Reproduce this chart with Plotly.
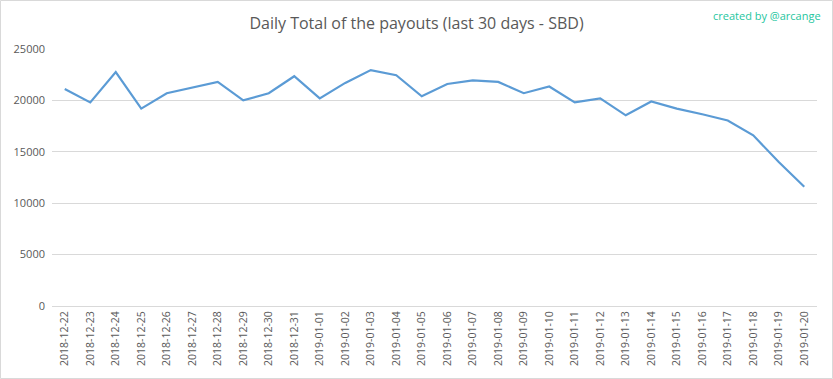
import plotly.graph_objects as go

dates = ["2018-12-22", "2018-12-23", "2018-12-24", "2018-12-25", "2018-12-26", "2018-12-27",
         "2018-12-28", "2018-12-29", "2018-12-30", "2018-12-31", "2019-01-01", "2019-01-02",
         "2019-01-03", "2019-01-04", "2019-01-05", "2019-01-06", "2019-01-07", "2019-01-08",
         "2019-01-09", "2019-01-10", "2019-01-11", "2019-01-12", "2019-01-13", "2019-01-14",
         "2019-01-15", "2019-01-16", "2019-01-17", "2019-01-18", "2019-01-19", "2019-01-20"]
payouts = [21100, 19800, 22750, 19200, 20700, 21250, 21800, 20000, 20700, 22350,
           20200, 21700, 22950, 22450, 20400, 21600, 21950, 21800, 20700, 21350,
           19800, 20200, 18550, 19900, 19200, 18650, 18050, 16600, 14000, 11600]
y_ticks = [0, 5000, 10000, 15000, 20000, 25000]

W, H = 833, 379
L, R, T, B = 52, 16, 49, 73
pw, ph = W - L - R, H - T - B

def px_x(p):
    return (p - L) / pw

def px_y(p):
    return (H - B - p) / ph

fig = go.Figure()
fig.add_trace(go.Scatter(x=dates, y=payouts, mode="lines",
                         line=dict(color="#5b9bd5", width=2.2), hoverinfo="x+y"))

fig.update_layout(
    width=W, height=H,
    margin=dict(l=L, r=R, t=T, b=B, autoexpand=False),
    paper_bgcolor="white", plot_bgcolor="white",
    showlegend=False,
    font=dict(family="Open Sans", color="#595959", size=11),
    title=dict(text="Daily Total of the payouts (last 30 days - SBD)", x=0.5, xanchor="center",
               xref="container", yref="container",
               y=1 - 23 / H, yanchor="middle", font=dict(size=16, color="#595959", family="Open Sans")),
    xaxis=dict(type="category", tickangle=-90, showgrid=False, showline=True, automargin=False,
               linecolor="#d9d9d9", linewidth=1, ticks="", tickfont=dict(size=10.5, color="#595959"),
               range=[-0.5, len(dates) - 0.5]),
    yaxis=dict(range=[0, 25000], tickvals=y_ticks, tickformat="d", showgrid=True, gridcolor="#d9d9d9",
               gridwidth=1, zeroline=False, showline=False, ticks="", automargin=False,
               tickfont=dict(size=11, color="#595959"), ticklabelstandoff=6),
    annotations=[dict(text="created by @arcange", xref="paper", yref="paper",
                      x=px_x(823), y=px_y(15), xanchor="right", yanchor="middle",
                      showarrow=False, font=dict(size=11, color="#26c6a0", family="Open Sans"))],
    shapes=[dict(type="rect", xref="paper", yref="paper",
                 x0=px_x(0.5), y0=px_y(378.5), x1=px_x(832.5), y1=px_y(0.5),
                 line=dict(color="#d9d9d9", width=1))],
)

fig.write_html("out.html", config={"displayModeBar": False},
               post_script="document.body.style.margin='0';document.body.style.overflow='hidden';")
